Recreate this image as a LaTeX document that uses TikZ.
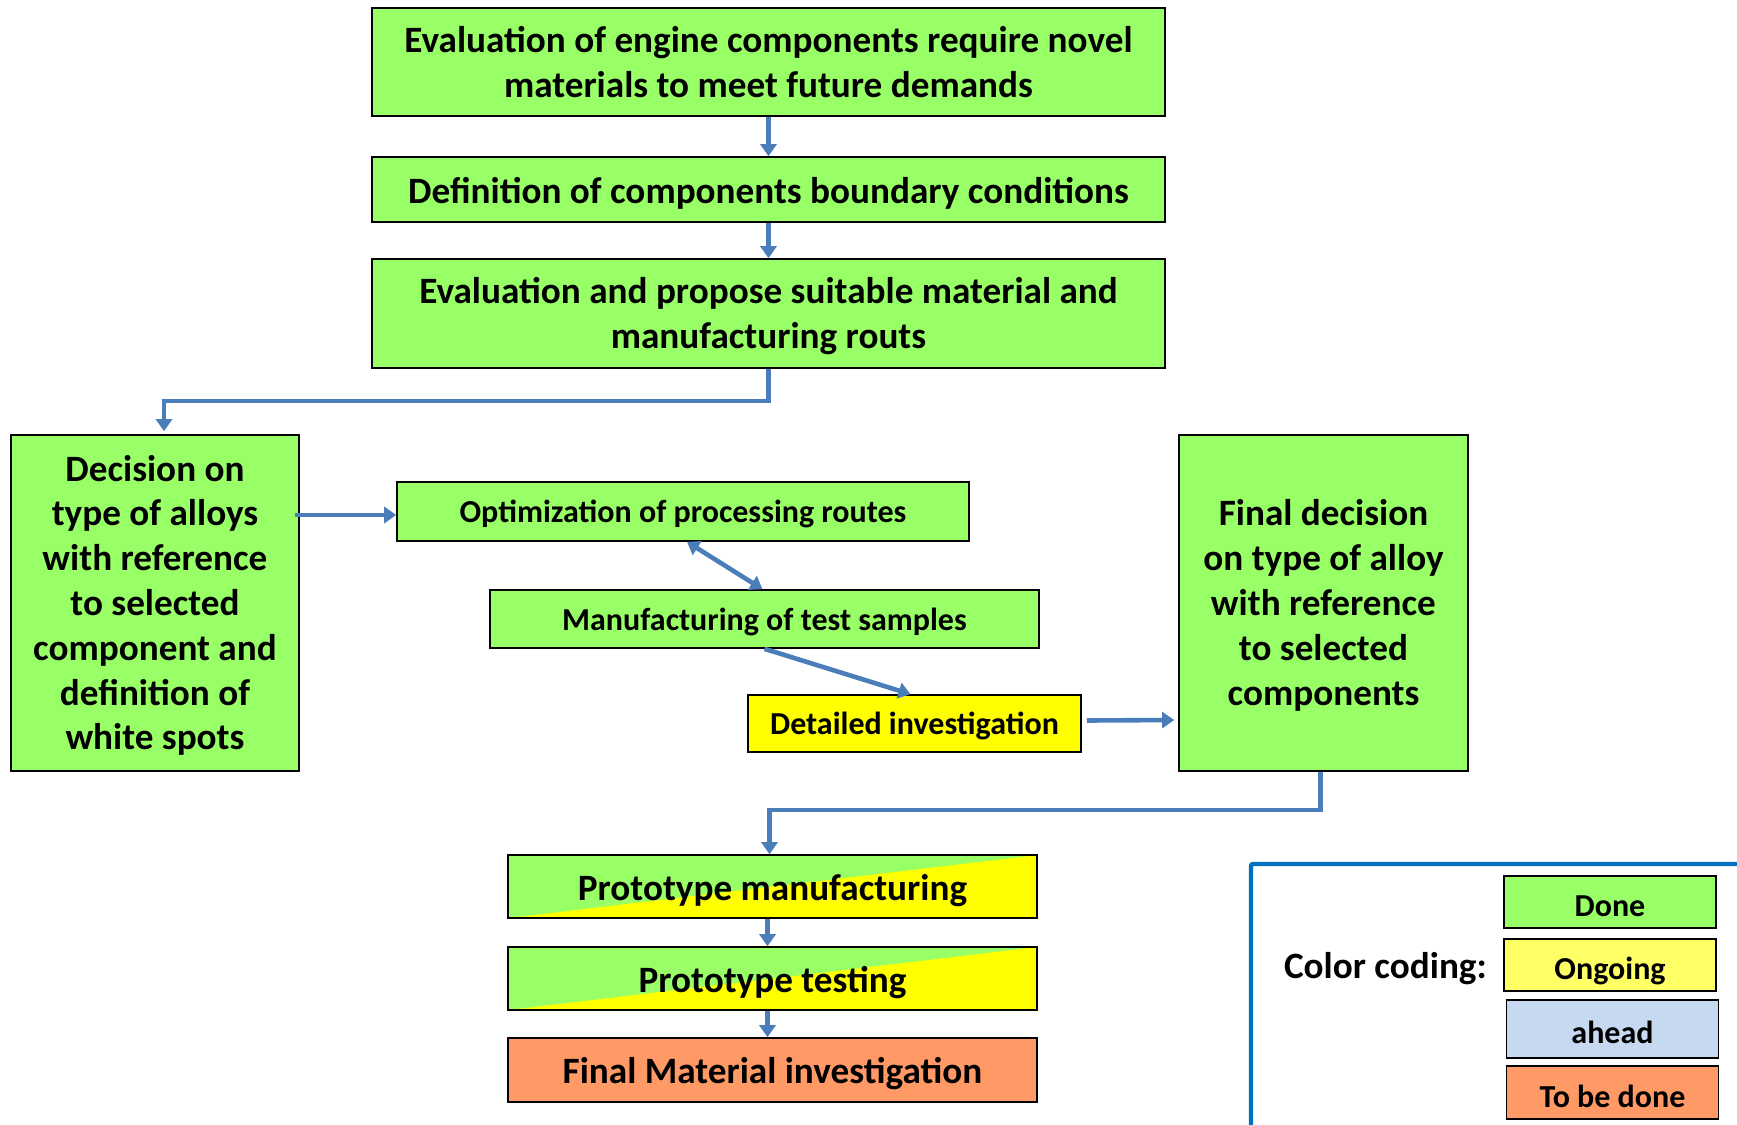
\documentclass[tikz,border=0pt]{standalone}
\usepackage{fontspec}
\setmainfont{Carlito}
\usepackage{xcolor}
\usetikzlibrary{
	positioning,   %定位
	arrows.meta,   %箭头
	calc           %计算
}
\definecolor{doneg}{HTML}{99FF66}
\definecolor{ongoy}{HTML}{FFFF66}
\definecolor{pureY}{HTML}{FFFF00}
\definecolor{aheadb}{HTML}{C6D9F1}
\definecolor{todoo}{HTML}{FF9966}
\definecolor{arrowb}{HTML}{4A7EBB}
\definecolor{frameb}{HTML}{0070C0}
\newcommand{\toprule}{\rule{0pt}{15.5pt}}%首行略下移
\tikzstyle{box}=[rectangle,
draw=black,
line width=0.8pt,
align=center,
inner sep=0pt,
font=\bfseries\fontsize{18.6}{22.4}\selectfont]
\tikzstyle{onebox}=[box,
text height=17.5pt,
text depth=3.7pt]
\tikzstyle{smallbox}=[box,
text height=14.5pt,
text depth=3.2pt,
font=\bfseries\fontsize{16}{19}\selectfont]
\tikzstyle{keybox}=[smallbox,
minimum width=106pt,
text height=16.5pt,
text depth=2pt]
\tikzset{
	split/.style={fill=pureY,
		path picture={\fill[doneg] (path picture bounding box.south west)
			-- (path picture bounding box.north west)
			-- (path picture bounding box.north east) -- cycle;}},
	arr/.style={draw=arrowb, line width=2.3pt,
		-{Triangle[width=8pt,length=6pt]}},
	darr/.style={arr, {Triangle[width=8pt,length=6pt]}-{Triangle[width=8pt,length=6pt]}}
}

\begin{document}
\begin{tikzpicture}[x=0.5pt,y=-0.5pt]
\useasboundingbox[fill=white] (0,0) rectangle (1737,1125);
% 上部流程
\node[box, fill=doneg, minimum width=396.5pt, minimum height=54pt] (eval) at (768.5,62)
	{Evaluation of engine components require novel\\materials to meet future demands};
\node[onebox, fill=doneg, minimum width=396.5pt, minimum height=32.5pt] (bound) at (768.5,189.5)
	{Definition of components boundary conditions};
\node[box, fill=doneg, minimum width=396.5pt, minimum height=54.5pt] (propose) at (768.5,313.5)
	{\toprule Evaluation and propose suitable material and\\manufacturing routs};
% 中部
\node[box, fill=doneg, minimum width=144pt, minimum height=168pt] (decide) at (155,603)
	{\toprule Decision on\\type of alloys\\with reference\\to selected\\component and\\definition of\\white spots};
\node[smallbox, fill=doneg, minimum width=286pt, minimum height=29.5pt] (optim) at (683,511.5)
	{Optimization of processing routes};
\node[smallbox, fill=doneg, minimum width=274.5pt, minimum height=29pt] (samples) at (764.5,619)
	{Manufacturing of test samples};
\node[smallbox, fill=pureY, minimum width=166.5pt, minimum height=28.5pt] (detail) at (914.5,723.5)
	{Detailed investigation};
\node[box, fill=doneg, minimum width=144.5pt, minimum height=168pt] (final) at (1323.5,603)
	{\toprule Final decision\\on type of alloy\\with reference\\to selected\\components};
% 下部
\node[onebox, split, minimum width=264.5pt, minimum height=31.5pt] (protoman) at (772.5,886.5)
	{Prototype manufacturing};
\node[onebox, split, minimum width=264.5pt, minimum height=31.5pt] (prototest) at (772.5,978.5)
	{Prototype testing};
\node[onebox, fill=todoo, minimum width=264.5pt, minimum height=32pt] (material) at (772.5,1070)
	{Final Material investigation};
% 连线
\draw[arr] (eval) -- (bound);
\draw[arr] (bound) -- (propose);
\draw[arr] (propose.south) -- ++(0,32) -| ([xshift=4.5pt,yshift=1.5pt]decide.north);
\draw[arr] ([xshift=-2.5pt]decide.east |- 0,515) -- (optim.west |- 0,515);
\draw[darr] ([xshift=2pt]optim.south) -- ([xshift=-1pt]samples.north);
\draw[arr] (samples.south) -- ([xshift=-2pt]detail.north);
\draw[arr] ([xshift=2.5pt,yshift=1.5pt]detail.east) -- ([xshift=-2pt]final.west |- 0,720);
\draw[arr] ([xshift=-1.5pt]final.south) -- ++(0,38) -| ([xshift=-1.5pt]protoman.north);
\draw[arr] ([xshift=-2.5pt]protoman.south) -- ([xshift=-2.5pt]prototest.north);
\draw[arr] ([xshift=-2.5pt]prototest.south) -- ([xshift=-2.5pt]material.north);
% 图例
\draw[frameb, line width=2.2pt, rounded corners=1pt] (1251,1130) -- (1251,864) -- (1742,864);
\node[keybox, fill=doneg, minimum height=26pt] (kdone) at (1610,902) {Done};
\node[keybox, fill=ongoy, minimum height=26pt] (kong) at (1610,965) {Ongoing};
\node[keybox, fill=aheadb, minimum height=29pt] (kahead) at (1612.5,1029) {ahead};
\node[keybox, fill=todoo, minimum height=26.5pt] (ktodo) at (1612.5,1092.5) {To be done};
\node[font=\bfseries\fontsize{18.6}{22}\selectfont, inner sep=0pt, left=8pt of kong, yshift=-2pt] (kcap) {Color coding:};
\end{tikzpicture}
\end{document}
